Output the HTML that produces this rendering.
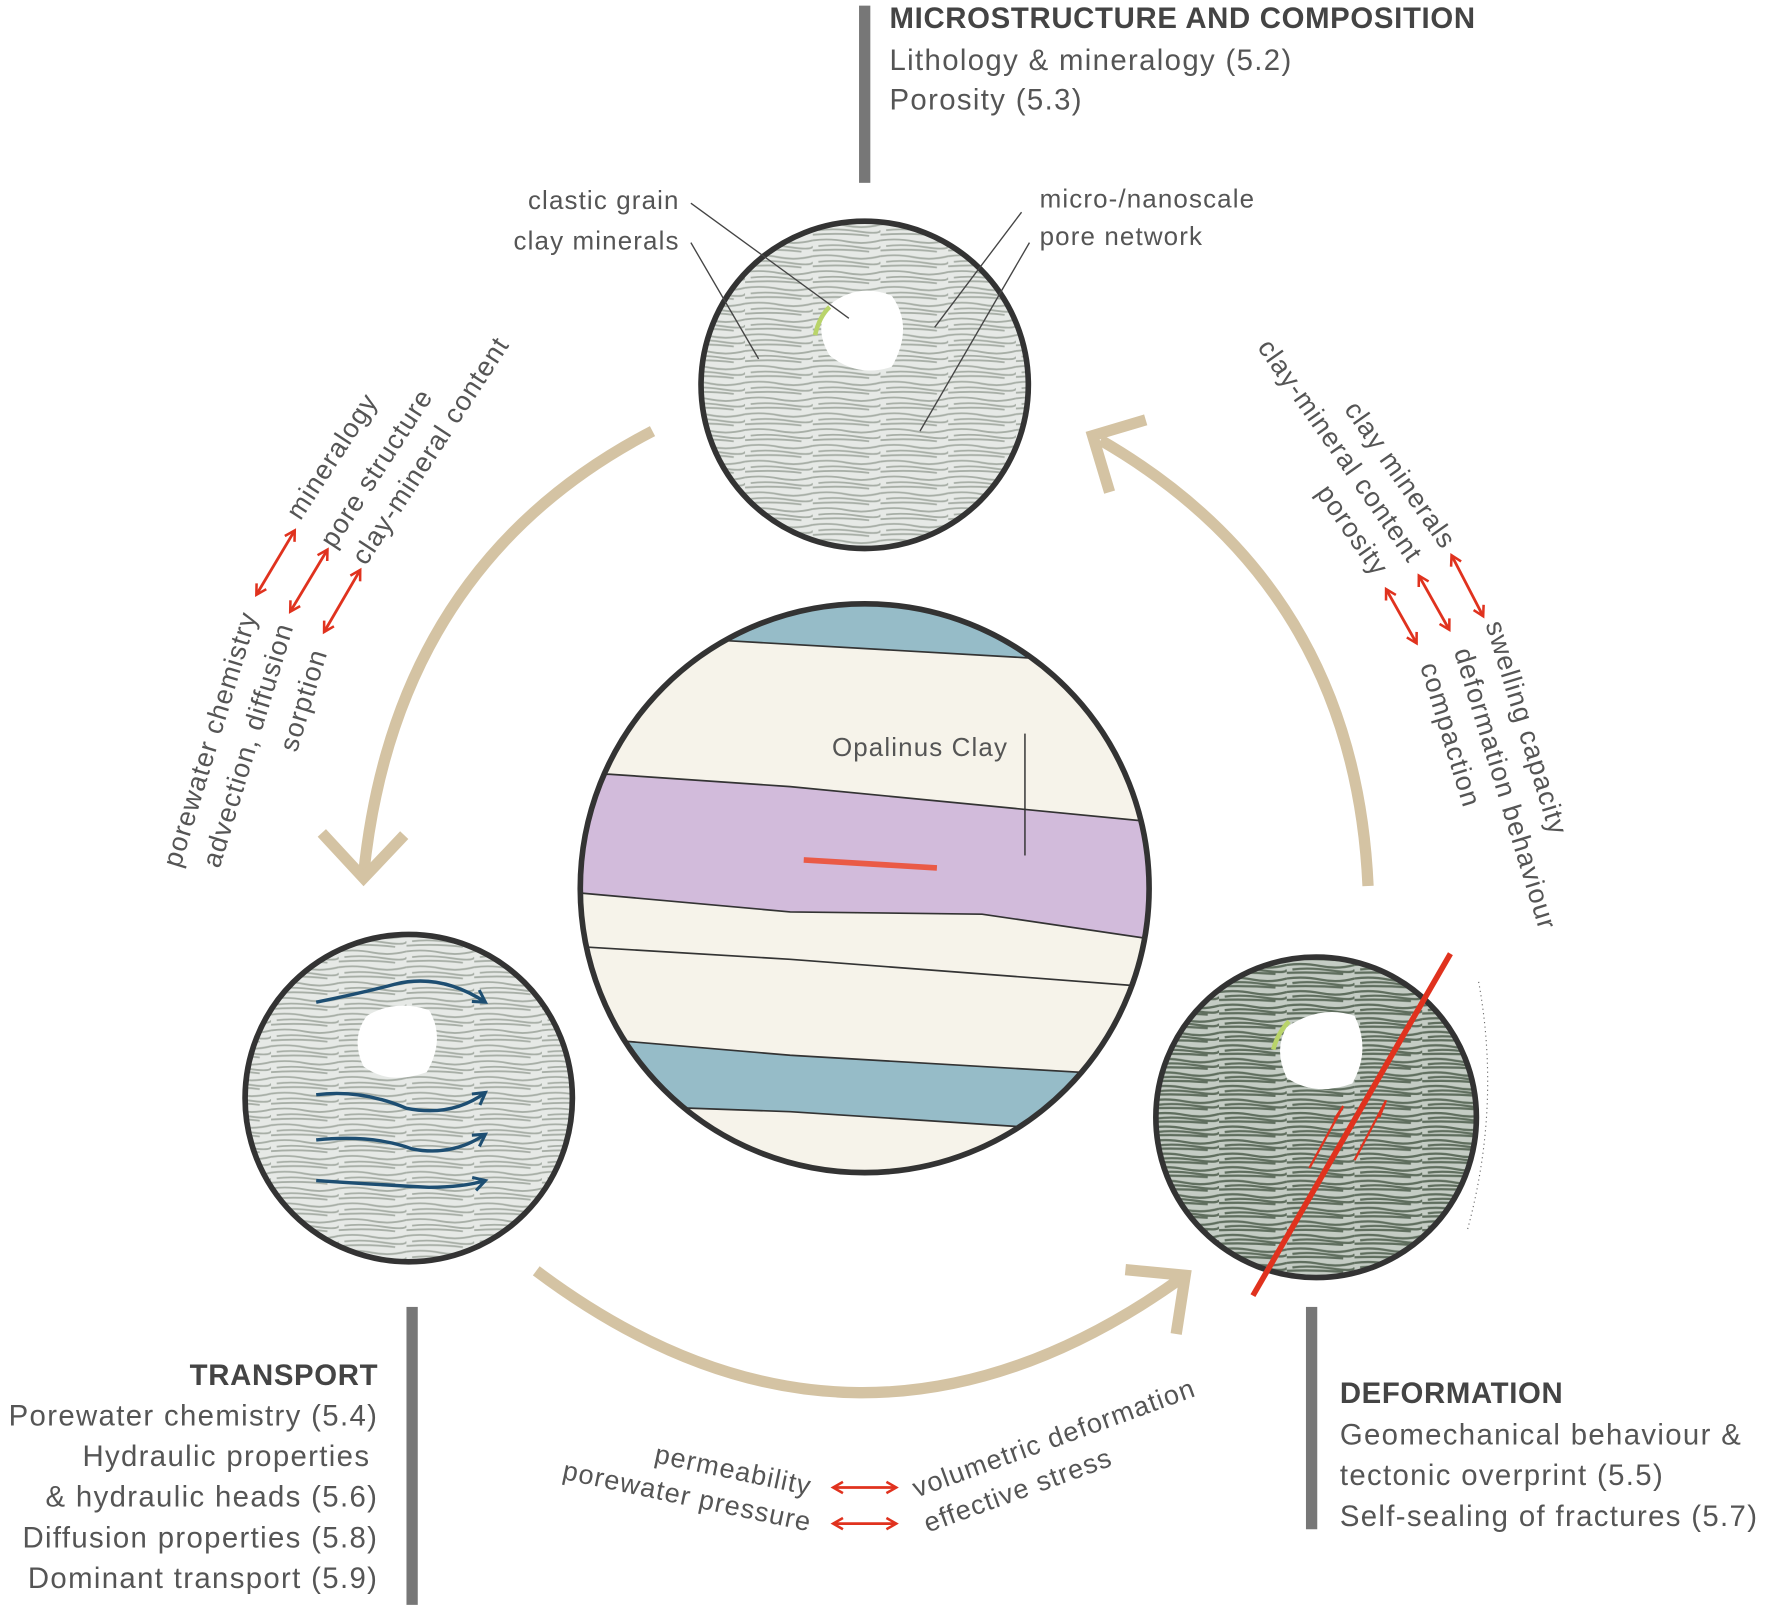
<!DOCTYPE html>
<html><head><meta charset="utf-8"><style>
html,body{margin:0;padding:0;background:#fff;}
svg{display:block;}
text{font-family:"Liberation Sans",sans-serif;fill:#555;letter-spacing:1.2px;}
.b{letter-spacing:0.6px;fill:#444;}
.s{letter-spacing:1px;}
</style></head><body>
<svg width="1770" height="1606" viewBox="0 0 1568 1423" xmlns="http://www.w3.org/2000/svg">
<defs>
<pattern id="tx" width="60" height="14" patternUnits="userSpaceOnUse">
<rect width="60" height="14" fill="#e6e9e6"/>
<path d="M0 3 Q15 1 30 4 T60 3 M5 8 Q20 6 40 9 T60 8 M0 12 Q25 10 50 13" stroke="#a7aea6" stroke-width="1.6" fill="none"/>
</pattern>
<pattern id="tx2" width="60" height="12" patternUnits="userSpaceOnUse">
<rect width="60" height="12" fill="#c4ccc4"/>
<path d="M0 3 Q15 1 30 4 T60 3 M5 7 Q20 5 40 8 T60 7 M0 10 Q25 9 50 11" stroke="#5f6e5e" stroke-width="2" fill="none"/>
</pattern>
<clipPath id="cc"><circle cx="766" cy="787" r="252"/></clipPath>
<marker id="ah" viewBox="0 0 10 10" refX="8" refY="5" markerWidth="5" markerHeight="5" orient="auto-start-reverse"><path d="M1 1 L8 5 L1 9" fill="none" stroke="#e0321e" stroke-width="1.8"/></marker>
<marker id="bh" viewBox="0 0 10 10" refX="8" refY="5" markerWidth="5" markerHeight="5" orient="auto"><path d="M1 1 L8 5 L1 9" fill="none" stroke="#1d4e72" stroke-width="1.8"/></marker>
</defs>

<rect x="761" y="5" width="10" height="157" fill="#777"/>
<rect x="360" y="1158" width="10" height="264" fill="#777"/>
<rect x="1157" y="1158" width="10" height="197" fill="#777"/>

<text x="788" y="25" font-size="26" font-weight="bold" class="b">MICROSTRUCTURE AND COMPOSITION</text>
<text x="788" y="62" font-size="26">Lithology &amp; mineralogy (5.2)</text>
<text x="788" y="97" font-size="26">Porosity (5.3)</text>

<g font-size="26" text-anchor="end">
<text x="335" y="1227" font-weight="bold" class="b">TRANSPORT</text>
<text x="335" y="1263">Porewater chemistry (5.4)</text>
<text x="328" y="1299">Hydraulic properties</text>
<text x="335" y="1335">&amp; hydraulic heads (5.6)</text>
<text x="335" y="1371">Diffusion properties (5.8)</text>
<text x="335" y="1407">Dominant transport (5.9)</text>
</g>
<g font-size="26">
<text x="1187" y="1243" font-weight="bold" class="b">DEFORMATION</text>
<text x="1187" y="1280">Geomechanical behaviour &amp;</text>
<text x="1187" y="1316">tectonic overprint (5.5)</text>
<text x="1187" y="1352">Self-sealing of fractures (5.7)</text>
</g>

<g stroke="#d4c3a3" stroke-width="10" fill="none" stroke-linecap="butt">
<path d="M578 382 Q350 500 322 775"/>
<path d="M285 738 L322 778 L358 740"/>
<path d="M1212 785 Q1200 520 975 390"/>
<path d="M1015 372 L968 386 L983 436"/>
<path d="M475 1126 Q760 1340 1050 1130"/>
<path d="M997 1125 L1050 1130 L1042 1182"/>
</g>

<circle cx="766" cy="341" r="145" fill="url(#tx)" stroke="#333" stroke-width="5"/>
<path d="M735 270 Q760 250 790 262 Q810 290 790 325 Q760 335 735 315 Q720 290 735 270Z" fill="#fff"/>
<path d="M722 297 Q726 280 735 272" stroke="#b9d46a" stroke-width="4" fill="none"/>
<g stroke="#444" stroke-width="1.2" fill="none">
<path d="M612 180 L752 282"/><path d="M612 215 L672 318"/>
<path d="M905 188 L828 290"/><path d="M912 215 L815 382"/>
</g>
<g font-size="23" class="s">
<text x="602" y="185" text-anchor="end" class="s">clastic grain</text>
<text x="602" y="221" text-anchor="end" class="s">clay minerals</text>
<text x="921" y="184" class="s">micro-/nanoscale</text>
<text x="921" y="217" class="s">pore network</text>
</g>

<g clip-path="url(#cc)">
<rect x="500" y="520" width="540" height="540" fill="#f6f3ea"/>
<path d="M500 520 L1040 520 L1040 600 L912 583 L650 568 L500 560Z" fill="#96bcc8" stroke="#333" stroke-width="1.5"/>
<path d="M500 686 L540 686 L700 697 L1040 730 L1040 835 L870 810 L700 808 L500 790Z" fill="#d2bbdb" stroke="#333" stroke-width="1.5"/>
<path d="M500 838 L700 850 L1040 876" stroke="#333" stroke-width="1.5" fill="none"/>
<path d="M500 918 L700 935 L1040 955 L1040 1060 L500 1060Z" fill="#96bcc8" stroke="#333" stroke-width="1.5"/>
<path d="M500 978 L700 985 L960 1002 L1040 1010 L1040 1060 L500 1060Z" fill="#f6f3ea" stroke="#333" stroke-width="1.5"/>
</g>
<circle cx="766" cy="787" r="252" fill="none" stroke="#333" stroke-width="5"/>
<line x1="712" y1="762" x2="830" y2="769" stroke="#ea5a46" stroke-width="5"/>
<line x1="908" y1="650" x2="908" y2="758" stroke="#333" stroke-width="1.3"/>
<text x="737" y="670" font-size="23" class="s">Opalinus Clay</text>

<circle cx="362" cy="973" r="145" fill="url(#tx)" stroke="#333" stroke-width="5"/>
<path d="M325 900 Q350 885 380 895 Q395 920 378 950 Q345 962 322 945 Q310 920 325 900Z" fill="#fff"/>
<g stroke="#1d4e72" stroke-width="3" fill="none" marker-end="url(#bh)">
<path d="M280 888 Q320 880 350 872 Q390 862 430 888"/>
<path d="M280 970 Q320 965 360 982 Q400 990 430 968"/>
<path d="M280 1010 Q330 1005 365 1018 Q400 1025 430 1005"/>
<path d="M280 1046 Q340 1050 380 1052 Q410 1052 430 1046"/>
</g>

<circle cx="1166" cy="990" r="142" fill="url(#tx2)" stroke="#333" stroke-width="5"/>
<path d="M1140 910 Q1170 890 1200 900 Q1215 930 1198 960 Q1165 972 1140 955 Q1128 930 1140 910Z" fill="#fff"/>
<path d="M1128 930 Q1132 915 1142 905" stroke="#b9d46a" stroke-width="4" fill="none"/>
<line x1="1285" y1="845" x2="1110" y2="1148" stroke="#e0321e" stroke-width="5"/>
<path d="M1160 1035 L1190 980 L1182 992 M1200 1028 L1228 975 L1222 990" stroke="#e0321e" stroke-width="2" fill="none"/>
<path d="M1310 870 Q1330 980 1300 1090" stroke="#666" stroke-width="1" stroke-dasharray="1 3" fill="none"/>

<g font-size="24">
<text class="s" transform="translate(266,462) rotate(-57)">mineralogy</text>
<text class="s" transform="translate(296,487) rotate(-57)">pore structure</text>
<text class="s" transform="translate(324,502) rotate(-57)">clay-mineral content</text>
<text class="s" text-anchor="end" transform="translate(228,545) rotate(-73)">porewater chemistry</text>
<text class="s" text-anchor="end" transform="translate(260,555) rotate(-73)">advection, diffusion</text>
<text class="s" text-anchor="end" transform="translate(290,578) rotate(-73)">sorption</text>
</g>
<g stroke="#e0321e" stroke-width="2.5" fill="none" marker-start="url(#ah)" marker-end="url(#ah)">
<line x1="227" y1="527" x2="261" y2="470"/>
<line x1="257" y1="542" x2="290" y2="487"/>
<line x1="287" y1="560" x2="319" y2="505"/>
</g>

<g font-size="24">
<text class="s" text-anchor="end" transform="translate(1278,488) rotate(55)">clay minerals</text>
<text class="s" text-anchor="end" transform="translate(1248,500) rotate(55)">clay-mineral content</text>
<text class="s" text-anchor="end" transform="translate(1218,512) rotate(55)">porosity</text>
<text class="s" transform="translate(1316,553) rotate(73)">swelling capacity</text>
<text class="s" transform="translate(1288,577) rotate(73)">deformation behaviour</text>
<text class="s" transform="translate(1258,590) rotate(73)">compaction</text>
</g>
<g stroke="#e0321e" stroke-width="2.5" fill="none" marker-start="url(#ah)" marker-end="url(#ah)">
<line x1="1286" y1="492" x2="1314" y2="546"/>
<line x1="1257" y1="510" x2="1284" y2="558"/>
<line x1="1228" y1="522" x2="1255" y2="570"/>
</g>

<g font-size="24">
<text class="s" text-anchor="end" transform="translate(717,1325) rotate(12)">permeability</text>
<text class="s" text-anchor="end" transform="translate(717,1357) rotate(12)">porewater pressure</text>
<text class="s" transform="translate(812,1327) rotate(-20)">volumetric deformation</text>
<text class="s" transform="translate(822,1358) rotate(-20)">effective stress</text>
</g>
<g stroke="#e0321e" stroke-width="2.5" fill="none" marker-start="url(#ah)" marker-end="url(#ah)">
<line x1="738" y1="1318" x2="794" y2="1318"/>
<line x1="738" y1="1350" x2="794" y2="1350"/>
</g>
</svg>
</body></html>
